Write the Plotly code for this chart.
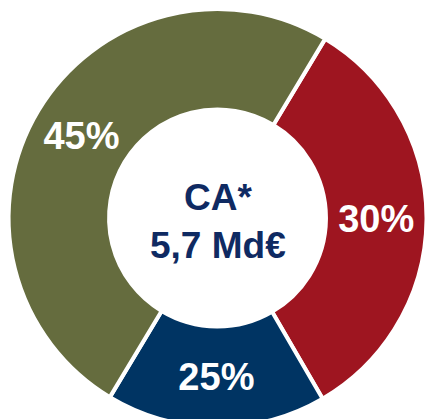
import plotly.graph_objects as go

# slices, in clockwise order starting at about 1 o'clock
segments = ["Rouge", "Bleu", "Vert"]
shares = [33, 17, 50]          # angular share
labels = ["30%", "25%", "45%"]  # printed labels
colors = ["#9E1520", "#003463", "#656C3E"]

center_text = "CA*<br>5,7 Md€"

# figure is a bit larger than the window so the ring runs off the bottom edge
W, H = 432, 432

fig = go.Figure(go.Pie(
    labels=segments,
    values=shares,
    text=labels,
    texttemplate="<b>%{text}</b>",
    textinfo="text",
    textposition="inside",
    insidetextorientation="horizontal",
    textfont=dict(size=38, color="white", family="Liberation Sans, Arial"),
    marker=dict(colors=colors, line=dict(color="white", width=4)),
    hole=0.519,
    sort=False,
    direction="clockwise",
    rotation=31,
    showlegend=False,
    domain=dict(x=[8.5 / W, 426.5 / W], y=[5 / H, 423 / H]),
))

fig.add_annotation(
    x=217.5 / W, y=(H - 221) / H, xref="paper", yref="paper",
    text="<b>" + center_text + "</b>", showarrow=False,
    font=dict(size=37, color="#0F2A62", family="Liberation Sans, Arial"),
)

fig.update_layout(
    width=W, height=H,
    margin=dict(l=0, r=0, t=0, b=0),
    paper_bgcolor="white", plot_bgcolor="white",
)

# drop the default page margin and scrollbars so the figure sits at the window's corner
fig.write_html(
    "out.html",
    config={"displayModeBar": False},
    post_script="document.body.style.margin='0';document.body.style.overflow='hidden';",
)
